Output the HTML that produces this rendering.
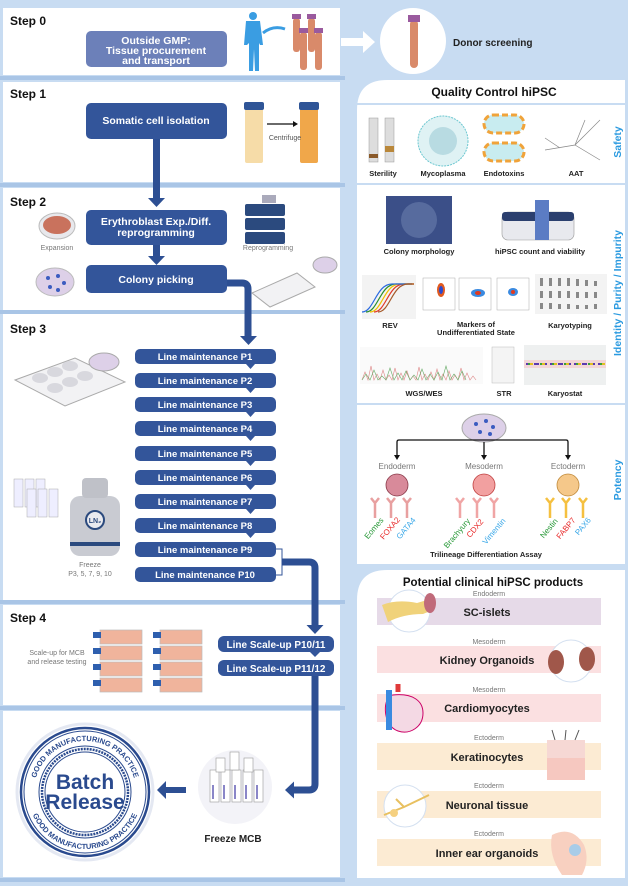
<!DOCTYPE html>
<html><head><meta charset="utf-8"><style>
html,body{margin:0;padding:0;background:#c8dcf2;}
svg{display:block;font-family:"Liberation Sans",sans-serif;}
.st{font-weight:bold;font-size:12px;fill:#111;}
.bx{fill:#33559a;}
.bt{fill:#fff;font-weight:bold;font-size:10.5px;text-anchor:middle;}
.lm{fill:#fff;font-weight:bold;font-size:9.5px;text-anchor:middle;}
.sm{font-size:7px;fill:#777;text-anchor:middle;}
.ql{font-size:7.5px;font-weight:bold;fill:#222;text-anchor:middle;}
.vl{font-size:10.5px;font-weight:bold;fill:#2a9ae0;text-anchor:middle;}
.pb{font-size:11px;font-weight:bold;fill:#222;text-anchor:middle;}
.cat{font-size:7px;fill:#777;text-anchor:middle;}
</style></head><body>
<svg width="628" height="886" viewBox="0 0 628 886" xmlns="http://www.w3.org/2000/svg">
<rect width="628" height="886" fill="#c8dcf2"/>
<g fill="#fff">
<rect x="3" y="8" width="337" height="67"/>
<rect x="3" y="82" width="337" height="100"/>
<rect x="3" y="188" width="337" height="122"/>
<rect x="3" y="314" width="337" height="286"/>
<rect x="3" y="605" width="337" height="100"/>
<rect x="3" y="711" width="337" height="166"/>
</g>
<g fill="#a9c5e6">
<rect x="0" y="76" width="345" height="4"/><rect x="0" y="183" width="345" height="4"/><rect x="0" y="310" width="345" height="4"/><rect x="0" y="600" width="345" height="4"/><rect x="0" y="706" width="345" height="4"/><rect x="0" y="878" width="345" height="4"/>
</g>
<text class="st" x="10" y="25">Step 0</text>
<text class="st" x="10" y="98">Step 1</text>
<text class="st" x="10" y="206">Step 2</text>
<text class="st" x="10" y="333">Step 3</text>
<text class="st" x="10" y="622">Step 4</text>

<rect x="86" y="31" width="141" height="36" rx="5" fill="#6c80b9"/>
<text class="bt" x="156" y="44">Outside GMP:</text>
<text class="bt" x="156" y="54">Tissue procurement</text>
<text class="bt" x="156" y="64">and transport</text>
<g fill="#3a9de2"><circle cx="253" cy="16" r="4"/><path d="M246 21h14l3 24h-3l-1-2v28h-4l-1-22-1 22h-4v-28l-2 2h-3z"/></g>
<path d="M263 33q10-8 22 -4" stroke="#3a9de2" stroke-width="3" fill="none"/>
<g fill="#d98a6a"><rect x="293" y="18" width="7" height="34" rx="3"/><rect x="308" y="18" width="7" height="34" rx="3"/><rect x="300" y="32" width="7" height="38" rx="3"/><rect x="315" y="32" width="7" height="38" rx="3"/></g>
<g fill="#9a5a9e"><rect x="292" y="14" width="9" height="5"/><rect x="307" y="14" width="9" height="5"/><rect x="299" y="28" width="9" height="5"/><rect x="314" y="28" width="9" height="5"/></g>
<path d="M341 38h22v-7l12 11-12 11v-7h-22z" fill="#fff"/>
<circle cx="413" cy="41" r="33" fill="#fff"/>
<rect x="410" y="20" width="8" height="48" rx="4" fill="#d98a6a"/><rect x="408" y="15" width="12" height="7" fill="#9a5a9e"/>
<text x="453" y="46" style="font-size:10px;font-weight:bold;fill:#222">Donor screening</text>

<rect class="bx" x="86" y="103" width="141" height="36" rx="5"/>
<text class="bt" x="156" y="124">Somatic cell isolation</text>
<rect x="245" y="108" width="18" height="55" rx="2" fill="#f6dca8"/><rect x="244" y="102" width="20" height="8" rx="2" fill="#2f5597"/>
<rect x="300" y="108" width="18" height="55" rx="2" fill="#f0a74a"/><rect x="299" y="102" width="20" height="8" rx="2" fill="#2f5597"/>
<path d="M267 124h26" stroke="#111" stroke-width="1.2"/><path d="M293 121l5 3-5 3z" fill="#111"/>
<text class="sm" x="285" y="140" style="fill:#555">Centrifuge</text>
<rect x="153" y="139" width="7" height="60" fill="#2d4f93"/><path d="M148 198h17l-8.5 9z" fill="#2d4f93"/>

<rect class="bx" x="86" y="210" width="141" height="35" rx="5"/>
<text class="bt" x="156" y="225">Erythroblast Exp./Diff.</text>
<text class="bt" x="156" y="236">reprogramming</text>
<rect x="153" y="245" width="7" height="12" fill="#2d4f93"/><path d="M148 256h17l-8.5 9z" fill="#2d4f93"/>
<rect class="bx" x="86" y="265" width="141" height="28" rx="5"/>
<text class="bt" x="156" y="283">Colony picking</text>
<path d="M227 283h15q6 0 6 6v49" stroke="#2d4f93" stroke-width="7" fill="none"/><path d="M240 336h17l-8.5 9z" fill="#2d4f93"/>
<ellipse cx="57" cy="226" rx="18" ry="13" fill="#e8e8ec" stroke="#bbb"/><ellipse cx="57" cy="225" rx="14" ry="9" fill="#c9725d"/>
<text class="sm" x="57" y="250">Expansion</text>
<ellipse cx="55" cy="282" rx="19" ry="14" fill="#ddd0e8" stroke="#bbb"/>
<g fill="#3b5cc0"><circle cx="48" cy="278" r="2"/><circle cx="58" cy="276" r="2"/><circle cx="64" cy="283" r="2"/><circle cx="50" cy="287" r="2"/><circle cx="58" cy="290" r="2"/></g>
<rect x="245" y="204" width="40" height="12" rx="2" fill="#2b4a7e"/><rect x="245" y="218" width="40" height="12" rx="2" fill="#2b4a7e"/><rect x="245" y="232" width="40" height="12" rx="2" fill="#2b4a7e"/><rect x="262" y="195" width="14" height="8" fill="#aab"/>
<text class="sm" x="268" y="250">Reprogramming</text>
<path d="M252 293l45-20 18 14-45 20z" fill="#f2f2f4" stroke="#aaa"/>
<ellipse cx="325" cy="265" rx="12" ry="8" fill="#ddd0e8" stroke="#aaa"/>

<g>
<rect class="bx" x="135" y="349" width="141" height="15" rx="5"/><rect class="bx" x="135" y="373" width="141" height="15" rx="5"/><rect class="bx" x="135" y="397" width="141" height="15" rx="5"/><rect class="bx" x="135" y="421" width="141" height="15" rx="5"/><rect class="bx" x="135" y="446" width="141" height="15" rx="5"/><rect class="bx" x="135" y="470" width="141" height="15" rx="5"/><rect class="bx" x="135" y="494" width="141" height="15" rx="5"/><rect class="bx" x="135" y="518" width="141" height="15" rx="5"/><rect class="bx" x="135" y="542" width="141" height="15" rx="5"/><rect class="bx" x="135" y="567" width="141" height="15" rx="5"/>
</g>
<g fill="#33559a">
<path d="M246 364h9l-4.5 5z"/><path d="M246 388h9l-4.5 5z"/><path d="M246 412h9l-4.5 5z"/><path d="M246 436h9l-4.5 5z"/><path d="M246 461h9l-4.5 5z"/><path d="M246 485h9l-4.5 5z"/><path d="M246 509h9l-4.5 5z"/><path d="M246 533h9l-4.5 5z"/>
</g>
<text class="lm" x="205" y="360">Line maintenance P1</text>
<text class="lm" x="205" y="384">Line maintenance P2</text>
<text class="lm" x="205" y="408">Line maintenance P3</text>
<text class="lm" x="205" y="432">Line maintenance P4</text>
<text class="lm" x="205" y="457">Line maintenance P5</text>
<text class="lm" x="205" y="481">Line maintenance P6</text>
<text class="lm" x="205" y="505">Line maintenance P7</text>
<text class="lm" x="205" y="529">Line maintenance P8</text>
<text class="lm" x="205" y="553">Line maintenance P9</text>
<text class="lm" x="205" y="578">Line maintenance P10</text>
<path d="M276 549h6v26h-6" stroke="#33559a" stroke-width="1" fill="none"/>
<path d="M282 562h27q6 0 6 6v58" stroke="#2d4f93" stroke-width="7" fill="none"/><path d="M306.5 625h17l-8.5 9z" fill="#2d4f93"/>
<path d="M15 380l60-22 50 24-60 24z" fill="#f2f2f4" stroke="#aaa"/>
<g fill="#d8d8de"><ellipse cx="40" cy="378" rx="8" ry="5"/><ellipse cx="55" cy="372" rx="8" ry="5"/><ellipse cx="70" cy="366" rx="8" ry="5"/><ellipse cx="55" cy="388" rx="8" ry="5"/><ellipse cx="70" cy="382" rx="8" ry="5"/><ellipse cx="85" cy="376" rx="8" ry="5"/></g>
<ellipse cx="104" cy="362" rx="15" ry="9" fill="#ddd0e8" stroke="#aaa"/>
<rect x="70" y="496" width="50" height="60" rx="10" fill="#c9cbd2"/><rect x="82" y="478" width="26" height="20" rx="4" fill="#bfc1c8"/><rect x="70" y="542" width="50" height="4" fill="#2b4a7e"/>
<circle cx="95" cy="520" r="9" fill="#e9eaef" stroke="#2b4a7e" stroke-width="2"/><text x="95" y="523" style="font-size:7px;font-weight:bold;fill:#2b4a7e;text-anchor:middle">LN₂</text>
<g fill="#eef" stroke="#aaa" stroke-width=".5"><rect x="14" y="479" width="9" height="28"/><rect x="25" y="479" width="9" height="28"/><rect x="36" y="479" width="9" height="28"/><rect x="27" y="489" width="9" height="28"/><rect x="38" y="489" width="9" height="28"/><rect x="49" y="489" width="9" height="28"/></g>
<text class="sm" x="90" y="567">Freeze</text><text class="sm" x="90" y="576">P3, 5, 7, 9, 10</text>

<rect class="bx" x="218" y="636" width="116" height="16" rx="6"/><rect class="bx" x="218" y="660" width="116" height="16" rx="6"/>
<path d="M310 652h10l-5 5z" fill="#33559a"/>
<text class="lm" x="276" y="648" style="font-size:10px">Line Scale-up P10/11</text>
<text class="lm" x="276" y="672" style="font-size:10px">Line Scale-up P11/12</text>
<text class="sm" x="57" y="655">Scale-up for MCB</text><text class="sm" x="57" y="664">and release testing</text>
<g fill="#f0b49c" stroke="#bbb" stroke-width=".7"><rect x="100" y="630" width="42" height="14"/><rect x="100" y="646" width="42" height="14"/><rect x="100" y="662" width="42" height="14"/><rect x="100" y="678" width="42" height="14"/><rect x="160" y="630" width="42" height="14"/><rect x="160" y="646" width="42" height="14"/><rect x="160" y="662" width="42" height="14"/><rect x="160" y="678" width="42" height="14"/></g>
<g fill="#2e5fae"><rect x="93" y="632" width="8" height="6"/><rect x="93" y="648" width="8" height="6"/><rect x="93" y="664" width="8" height="6"/><rect x="93" y="680" width="8" height="6"/><rect x="153" y="632" width="8" height="6"/><rect x="153" y="648" width="8" height="6"/><rect x="153" y="664" width="8" height="6"/><rect x="153" y="680" width="8" height="6"/></g>
<path d="M315 676v108q0 6-6 6h-16" stroke="#2d4f93" stroke-width="7" fill="none"/><path d="M294 781.5v17l-9-8.5z" fill="#2d4f93"/>
<path d="M186 787h-20v-6l-9 9 9 9v-6h20z" fill="#2d4f93"/>
<circle cx="235" cy="787" r="37" fill="#f3f3f8"/>
<g fill="#fff" stroke="#999" stroke-width=".6">
<rect x="210" y="770" width="9" height="32"/><rect x="221" y="770" width="9" height="32"/><rect x="232" y="770" width="9" height="32"/><rect x="243" y="770" width="9" height="32"/><rect x="254" y="770" width="9" height="32"/><rect x="216" y="758" width="9" height="14"/><rect x="230" y="752" width="9" height="18"/><rect x="244" y="758" width="9" height="14"/></g>
<g fill="#8a86c8"><rect x="212" y="785" width="2" height="14"/><rect x="223" y="785" width="2" height="14"/><rect x="234" y="785" width="2" height="14"/><rect x="245" y="785" width="2" height="14"/><rect x="256" y="785" width="2" height="14"/></g>
<text x="233" y="842" style="font-size:10px;font-weight:bold;fill:#222;text-anchor:middle">Freeze MCB</text>
<circle cx="85" cy="792" r="68" fill="#fff" stroke="#e4e8f2" stroke-width="3"/>
<circle cx="85" cy="792" r="64" fill="none" stroke="#2a4a8e" stroke-width="2.5"/>
<circle cx="85" cy="792" r="61" fill="none" stroke="#2a4a8e" stroke-width="1"/>
<circle cx="85" cy="792" r="46" fill="none" stroke="#2a4a8e" stroke-width="1"/>
<circle cx="85" cy="792" r="43" fill="none" stroke="#2a4a8e" stroke-width="2.5" stroke-dasharray="2 1"/>
<circle cx="85" cy="792" r="40" fill="none" stroke="#2a4a8e" stroke-width="1"/>
<defs><path id="tp" d="M34 792a51 51 0 0 1 102 0"/><path id="bp" d="M28 792a57 57 0 0 0 114 0"/></defs>
<text style="font-size:7.5px;font-weight:bold;fill:#2a4a8e"><textPath href="#tp" startOffset="50%" text-anchor="middle">GOOD MANUFACTURING PRACTICE</textPath></text>
<text style="font-size:7.5px;font-weight:bold;fill:#2a4a8e"><textPath href="#bp" startOffset="50%" text-anchor="middle">GOOD MANUFACTURING PRACTICE</textPath></text>
<text x="85" y="789" style="font-size:21px;font-weight:bold;fill:#2a4a8e;text-anchor:middle">Batch</text>
<text x="85" y="809" style="font-size:21px;font-weight:bold;fill:#2a4a8e;text-anchor:middle">Release</text>

<path d="M357 564V110q0-30 30-30h238v484z" fill="#fff"/>
<text x="494" y="96" style="font-size:12px;font-weight:bold;fill:#111;text-anchor:middle">Quality Control hiPSC</text>
<rect x="357" y="103" width="268" height="2" fill="#c8dcf2"/>
<rect x="357" y="183" width="268" height="2" fill="#c8dcf2"/>
<rect x="357" y="403" width="268" height="2" fill="#c8dcf2"/>
<rect x="369" y="118" width="9" height="44" fill="#ddd" stroke="#999" stroke-width=".5"/><rect x="385" y="118" width="9" height="44" fill="#ddd" stroke="#999" stroke-width=".5"/><rect x="369" y="154" width="9" height="4" fill="#8a5a2a"/><rect x="385" y="146" width="9" height="6" fill="#b9873a"/>
<text class="ql" x="383" y="176">Sterility</text>
<circle cx="443" cy="141" r="25" fill="#dff2f4" stroke="#6cc7d0" stroke-dasharray="2 1"/><circle cx="443" cy="141" r="14" fill="#b8dbe2"/>
<text class="ql" x="443" y="176">Mycoplasma</text>
<rect x="484" y="115" width="40" height="18" rx="9" fill="#c8ecf0" stroke="#f0a33a" stroke-width="3" stroke-dasharray="6 3"/><rect x="484" y="143" width="40" height="18" rx="9" fill="#c8ecf0" stroke="#f0a33a" stroke-width="3" stroke-dasharray="6 3"/>
<text class="ql" x="504" y="176">Endotoxins</text>
<path d="M545 150l30-5 25-25M575 145l25 15M575 145l10-25M560 148l-15-10" stroke="#888" stroke-width=".7" fill="none"/>
<text class="ql" x="576" y="176">AAT</text>
<text class="vl" transform="translate(621 142) rotate(-90)">Safety</text>
<rect x="386" y="196" width="66" height="48" fill="#3b4f88"/><circle cx="419" cy="220" r="18" fill="#6b7fae" opacity=".6"/>
<text class="ql" x="419" y="254">Colony morphology</text>
<rect x="502" y="212" width="72" height="28" rx="6" fill="#e8e9ee" stroke="#999" stroke-width=".6"/><rect x="502" y="212" width="72" height="9" rx="3" fill="#2b3f6e"/><rect x="535" y="200" width="14" height="40" fill="#5b7cc4"/>
<text class="ql" x="540" y="254">hiPSC count and viability</text>
<rect x="362" y="275" width="54" height="44" fill="#f3f3f3"/>
<g fill="none" stroke-width="1.2"><path d="M366 312c12 0 14-28 30-28h16" stroke="#2a8e2a"/><path d="M370 312c12 0 14-28 30-28h14" stroke="#f0c000"/><path d="M374 312c12 0 14-28 30-28h10" stroke="#e03a2a"/><path d="M362 312c12 0 14-28 30-28h20" stroke="#2a6ae0"/><path d="M378 312c12 0 14-28 30-28h6" stroke="#a55a2a"/></g>
<text class="ql" x="390" y="328">REV</text>
<g fill="#fff" stroke="#aaa" stroke-width=".5"><rect x="423" y="278" width="32" height="32"/><rect x="459" y="278" width="32" height="32"/><rect x="497" y="278" width="32" height="32"/></g>
<g><ellipse cx="441" cy="290" rx="4" ry="7" fill="#e05a20"/><ellipse cx="441" cy="290" rx="2" ry="4" fill="#2a4ad0"/><ellipse cx="478" cy="293" rx="7" ry="4" fill="#3a8ae0"/><ellipse cx="478" cy="293" rx="3" ry="2" fill="#e03a20"/><ellipse cx="513" cy="292" rx="5" ry="4" fill="#3a8ae0"/><ellipse cx="513" cy="292" rx="2" ry="2" fill="#e03a20"/></g>
<text class="ql" x="476" y="327">Markers of</text><text class="ql" x="476" y="335">Undifferentiated State</text>
<rect x="535" y="274" width="72" height="40" fill="#f3f3f3"/>
<g fill="#888"><rect x="540" y="278" width="3" height="8"/><rect x="549" y="278" width="3" height="8"/><rect x="558" y="278" width="3" height="8"/><rect x="567" y="278" width="3" height="8"/><rect x="576" y="279" width="3" height="7"/><rect x="585" y="280" width="3" height="6"/><rect x="594" y="281" width="3" height="5"/><rect x="540" y="291" width="3" height="7"/><rect x="549" y="291" width="3" height="7"/><rect x="558" y="291" width="3" height="7"/><rect x="567" y="291" width="3" height="7"/><rect x="576" y="292" width="3" height="6"/><rect x="585" y="292" width="3" height="6"/><rect x="594" y="292" width="3" height="6"/><rect x="540" y="303" width="3" height="6"/><rect x="549" y="303" width="3" height="6"/><rect x="558" y="304" width="3" height="5"/><rect x="567" y="304" width="3" height="5"/><rect x="576" y="305" width="3" height="4"/><rect x="585" y="305" width="3" height="4"/><rect x="594" y="304" width="3" height="5"/></g>
<text class="ql" x="570" y="328">Karyotyping</text>
<rect x="360" y="347" width="123" height="37" fill="#fafafa"/>
<path d="M362 380l3-8 3 8 3-14 3 14 3-6 3 6 3-10 3 10 3-5 3 5 3-12 3 12 3-7 3 7 3-9 3 9 3-4 3 4 3-13 3 13 3-6 3 6 3-8 3 8 3-11 3 11 3-6 3 6 3-9 3 9 3-5 3 5 3-12 3 12 3-7 3 7 3-4 3 4" stroke="#d88" stroke-width=".6" fill="none"/>
<path d="M362 380l4-6 4 6 4-10 4 10 4-4 4 4 4-12 4 12 4-7 4 7 4-9 4 9 4-5 4 5 4-11 4 11 4-6 4 6 4-8 4 8 4-14 4 14 4-6 4 6 4-9 4 9" stroke="#6a6" stroke-width=".6" fill="none"/>
<text class="ql" x="424" y="396">WGS/WES</text>
<rect x="492" y="347" width="22" height="36" fill="#f4f4f4" stroke="#bbb" stroke-width=".5"/>
<text class="ql" x="504" y="396">STR</text>
<rect x="524" y="345" width="82" height="40" fill="#eef0f0"/><rect x="524" y="360" width="82" height="8" fill="#f5c5c5" opacity=".6"/><path d="M526 364h78" stroke="#5a3ab0" stroke-width="2" stroke-dasharray="5 3"/><path d="M530 364h78" stroke="#e0c020" stroke-width="2" stroke-dasharray="3 9"/><path d="M528 364h78" stroke="#3aa03a" stroke-width="2" stroke-dasharray="2 10"/>
<text class="ql" x="565" y="396">Karyostat</text>
<text class="vl" transform="translate(621 293) rotate(-90)">Identity / Purity / Impurity</text>
<ellipse cx="484" cy="428" rx="22" ry="14" fill="#ddd0e8" stroke="#aaa"/>
<g fill="#3b5cc0"><circle cx="476" cy="424" r="2"/><circle cx="486" cy="421" r="2"/><circle cx="493" cy="427" r="2"/><circle cx="480" cy="432" r="2"/><circle cx="490" cy="434" r="2"/></g>
<path d="M397 457v-15q0-2 2-2h167q2 0 2 2v15M484 442v15" stroke="#111" stroke-width="1.3" fill="none"/>
<path d="M394 455h6l-3 5zM481 455h6l-3 5zM565 455h6l-3 5z" fill="#111"/>
<text class="cat" x="397" y="469" style="font-size:8px">Endoderm</text>
<text class="cat" x="484" y="469" style="font-size:8px">Mesoderm</text>
<text class="cat" x="568" y="469" style="font-size:8px">Ectoderm</text>
<circle cx="397" cy="485" r="11" fill="#d88a9a" stroke="#8a3a4a" stroke-width=".8"/>
<circle cx="484" cy="485" r="11" fill="#f2a0a0" stroke="#c04040" stroke-width=".8"/>
<circle cx="568" cy="485" r="11" fill="#f5c88a" stroke="#c08a3a" stroke-width=".8"/>
<g stroke-width="2.5" fill="none">
<path d="M375 502v16M371 498l4 5 4-5M391 502v16M387 498l4 5 4-5M407 502v16M403 498l4 5 4-5" stroke="#e8a0a0"/>
<path d="M460 502v16M456 498l4 5 4-5M477 502v16M473 498l4 5 4-5M494 502v16M490 498l4 5 4-5" stroke="#f0a5a5"/>
<path d="M550 502v16M546 498l4 5 4-5M566 502v16M562 498l4 5 4-5M583 502v16M579 498l4 5 4-5" stroke="#f5c040"/>
</g>
<g style="font-size:8px" text-anchor="middle">
<text fill="#2a9a3a" transform="translate(376 530) rotate(-50)">Eomes</text>
<text fill="#e82a2a" transform="translate(392 530) rotate(-50)">FOXA2</text>
<text fill="#3aa8e8" transform="translate(408 530) rotate(-50)">GATA4</text>
<text fill="#2a9a3a" transform="translate(459 535) rotate(-50)">Brachyury</text>
<text fill="#e82a2a" transform="translate(477 530) rotate(-50)">CDX2</text>
<text fill="#3aa8e8" transform="translate(496 533) rotate(-50)">Vimentin</text>
<text fill="#2a9a3a" transform="translate(551 530) rotate(-50)">Nestin</text>
<text fill="#e82a2a" transform="translate(568 530) rotate(-50)">FABP7</text>
<text fill="#3aa8e8" transform="translate(585 528) rotate(-50)">PAX6</text>
</g>
<text class="ql" x="486" y="557">Trilineage Differentiation Assay</text>
<text class="vl" transform="translate(621 480) rotate(-90)">Potency</text>

<path d="M357 878V600q0-30 30-30h238v308z" fill="#fff"/>
<text x="493" y="586" style="font-size:11.5px;font-weight:bold;fill:#111;text-anchor:middle">Potential clinical hiPSC products</text>
<rect x="377" y="598" width="224" height="27" fill="#e6dae8"/>
<rect x="377" y="646" width="224" height="27" fill="#fbe0e1"/>
<rect x="377" y="694" width="224" height="28" fill="#fbe0e1"/>
<rect x="377" y="743" width="224" height="27" fill="#fcebd3"/>
<rect x="377" y="791" width="224" height="27" fill="#fcebd3"/>
<rect x="377" y="839" width="224" height="27" fill="#fcebd3"/>
<text class="cat" x="489" y="596">Endoderm</text><text class="cat" x="489" y="644">Mesoderm</text><text class="cat" x="489" y="692">Mesoderm</text><text class="cat" x="489" y="740">Ectoderm</text><text class="cat" x="489" y="788">Ectoderm</text><text class="cat" x="489" y="836">Ectoderm</text>
<text class="pb" x="487" y="616">SC-islets</text>
<text class="pb" x="487" y="664">Kidney Organoids</text>
<text class="pb" x="487" y="712">Cardiomyocytes</text>
<text class="pb" x="487" y="761">Keratinocytes</text>
<text class="pb" x="487" y="809">Neuronal tissue</text>
<text class="pb" x="487" y="857">Inner ear organoids</text>
<circle cx="409" cy="611" r="21" fill="#fff" stroke="#d4e0f0"/><path d="M382 605q15-6 35-2l10-3 6 10-10 4q-20 0-35 8z" fill="#f0d27a"/><ellipse cx="430" cy="603" rx="6" ry="10" fill="#c06a7a"/>
<circle cx="571" cy="661" r="21" fill="#fff" stroke="#d4e0f0"/><ellipse cx="556" cy="662" rx="8" ry="12" fill="#a0574a"/><ellipse cx="587" cy="659" rx="8" ry="12" fill="#a0574a"/>
<path d="M393 695c-10 0-12 30 5 36 12 4 25-4 25-18 0-12-10-20-30-18z" fill="#f4d9e4" stroke="#c06"/><rect x="386" y="690" width="6" height="40" fill="#3a8ae0"/><path d="M398 692v-8" stroke="#e03a3a" stroke-width="5"/>
<rect x="547" y="758" width="38" height="22" fill="#f6c8c0"/><rect x="547" y="740" width="38" height="18" fill="#f6d8d4"/><path d="M555 740l-3-10M565 740l1-10M575 740l4-10" stroke="#555"/>
<circle cx="405" cy="806" r="21" fill="#fff" stroke="#d4e0f0"/><path d="M384 815l20-8 25-12M404 807l-8-8" stroke="#e8c060" stroke-width="2" fill="none"/><circle cx="394" cy="813" r="4" fill="#f5d080"/>
<path d="M552 835q20-10 32 10 6 15-2 30h-20q-14-20-10-40z" fill="#f8d0c0"/><circle cx="575" cy="850" r="6" fill="#a8cce8"/>
</svg>
</body></html>
